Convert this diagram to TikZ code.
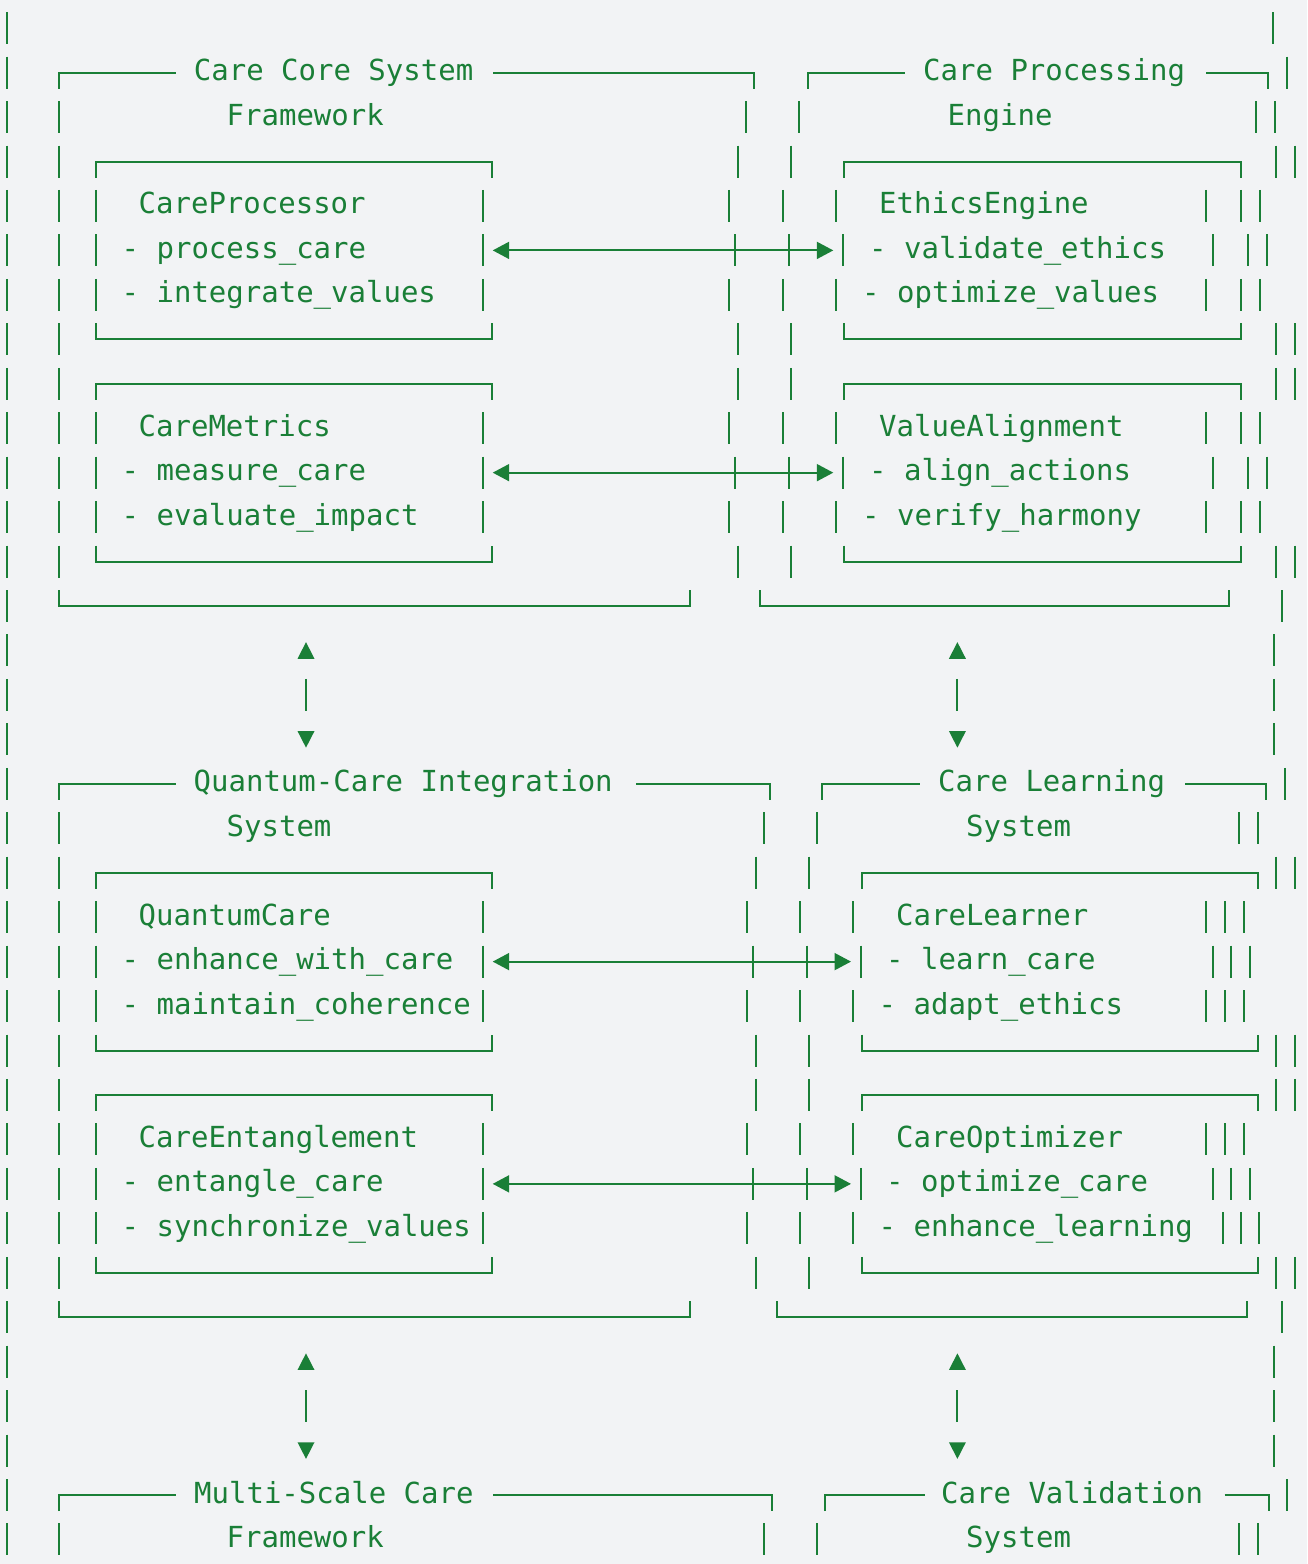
\documentclass[tikz,border=0pt]{standalone}
\usepackage{fontspec}
\setmonofont{DejaVu Sans Mono}
\usetikzlibrary{arrows.meta}

\definecolor{diagreen}{HTML}{1A7F37}
\definecolor{diabg}{HTML}{F2F3F5}

% y of text row #1
\newcommand{\rowy}[1]{(28.15+44.45*(#1))}
% short vertical strokes of one row
\newcommand{\vbars}[2]{\foreach \bx in {#2}{\draw[boxline] (\bx,{\rowy{#1}-16}) -- (\bx,{\rowy{#1}+16});}}
% top and bottom edges of a box
\newcommand{\topedge}[3]{\draw[boxline] (#2,{\rowy{#1}+16}) -- (#2,{\rowy{#1}}) -- (#3,{\rowy{#1}}) -- (#3,{\rowy{#1}+16});}
\newcommand{\botedge}[3]{\draw[boxline] (#2,{\rowy{#1}-16}) -- (#2,{\rowy{#1}}) -- (#3,{\rowy{#1}}) -- (#3,{\rowy{#1}-16});}
% top edge broken by a title
\newcommand{\titleedge}[5]{\draw[boxline] (#2,{\rowy{#1}+16}) -- (#2,{\rowy{#1}}) -- (#3,{\rowy{#1}});
  \draw[boxline] (#4,{\rowy{#1}}) -- (#5,{\rowy{#1}}) -- (#5,{\rowy{#1}+16});}
% solid triangles
\newcommand{\uptri}[2]{\fill[diagreen] (#1-8.5,{\rowy{#2}+8.3}) -- (#1+8.5,{\rowy{#2}+8.3}) -- (#1,{\rowy{#2}-8.3}) -- cycle;}
\newcommand{\downtri}[2]{\fill[diagreen] (#1-8.5,{\rowy{#2}-8.3}) -- (#1+8.5,{\rowy{#2}-8.3}) -- (#1,{\rowy{#2}+8.3}) -- cycle;}

\begin{document}
\begin{tikzpicture}[x=1pt,y=-1pt,
    boxline/.style={draw=diagreen,line width=2pt},
    txt/.style={font=\ttfamily\fontsize{29}{29}\selectfont,text=diagreen,inner sep=0pt,anchor=base west},
    link/.style={draw=diagreen,line width=2pt,{Triangle[length=16.5pt,width=17pt]}-{Triangle[length=16.5pt,width=17pt]}}]
  \fill[diabg] (0,0) rectangle (1307,1564);
  \useasboundingbox (0,0) rectangle (1307,1564);

  % first level
  \vbars{0}{7,1273.3}
  \vbars{1}{7,1286.7}
  \titleedge{1}{59.3}{176}{493.3}{754.3}
  \titleedge{1}{807.7}{905}{1206}{1268.3}
  \vbars{2}{7,59.3,746,799.3,1256,1275}
  \foreach \k in {0,5} {
    \vbars{3+\k}{7,59.3,738,791,1275.5,1294.5}
    \topedge{3+\k}{95.7}{491.7}
    \topedge{3+\k}{844.3}{1240.7}
    \vbars{4+\k}{7,59.3,95.7,482.7,729.3,782.7,835.7,1205.5,1240.7,1259.5}
    \vbars{5+\k}{7,59.3,95.7,482.7,734.7,788.7,842.7,1212.5,1247.7,1266.7}
    \vbars{6+\k}{7,59.3,95.7,482.7,729.3,782.7,835.7,1205.5,1240.7,1259.5}
    \vbars{7+\k}{7,59.3,738,791,1275.5,1294.5}
    \botedge{7+\k}{95.7}{491.7}
    \botedge{7+\k}{844.3}{1240.7}
  }
  \vbars{13}{7,1282}
  \botedge{13}{59.3}{689.7}
  \botedge{13}{760}{1229}

  \node[txt] (coreTitle) at (193.7,{\rowy{1}+8}) {Care Core System};
  \node[txt] (coreSub) at (226.5,{\rowy{2}+8}) {Framework};
  \node[txt] (engTitle) at (923,{\rowy{1}+8}) {Care Processing};
  \node[txt] (engSub) at (947.5,{\rowy{2}+8}) {Engine};
  \node[txt] (procName) at (138.5,{\rowy{4}+8}) {CareProcessor};
  \node[txt] (procA) at (121.5,{\rowy{5}+8}) {- process\_care};
  \node[txt] (procB) at (121.5,{\rowy{6}+8}) {- integrate\_values};
  \node[txt] (ethName) at (879,{\rowy{4}+8}) {EthicsEngine};
  \node[txt] (ethA) at (869,{\rowy{5}+8}) {- validate\_ethics};
  \node[txt] (ethB) at (862,{\rowy{6}+8}) {- optimize\_values};
  \node[txt] (metName) at (138.5,{\rowy{9}+8}) {CareMetrics};
  \node[txt] (metA) at (121.5,{\rowy{10}+8}) {- measure\_care};
  \node[txt] (metB) at (121.5,{\rowy{11}+8}) {- evaluate\_impact};
  \node[txt] (valName) at (879,{\rowy{9}+8}) {ValueAlignment};
  \node[txt] (valA) at (869,{\rowy{10}+8}) {- align\_actions};
  \node[txt] (valB) at (862,{\rowy{11}+8}) {- verify\_harmony};

  \coordinate (procOut) at (492.7,{\rowy{5}});
  \coordinate (ethIn) at (833.3,{\rowy{5}});
  \coordinate (metOut) at (492.7,{\rowy{10}});
  \coordinate (valIn) at (833.3,{\rowy{10}});
  \draw[link] (procOut) -- (ethIn);
  \draw[link] (metOut) -- (valIn);

  % links between levels
  \foreach \r in {14,30} {
    \vbars{\r}{7,1274}
    \vbars{\r+1}{7,306,957.4,1274}
    \vbars{\r+2}{7,1274}
    \uptri{306}{\r}
    \uptri{957.4}{\r}
    \downtri{306}{\r+2}
    \downtri{957.4}{\r+2}
  }

  % second level
  \vbars{17}{7,1284.6}
  \titleedge{17}{59.3}{176}{636}{769.7}
  \titleedge{17}{822.3}{920}{1185}{1266}
  \vbars{18}{7,59.3,763.9,816.9,1239,1257.5}
  \foreach \k in {0,5} {
    \vbars{19+\k}{7,59.3,755.7,808.7,1276,1294.5}
    \topedge{19+\k}{95.7}{491.7}
    \topedge{19+\k}{862}{1258.3}
    \vbars{20+\k}{7,59.3,95.7,482.7,746.7,800,853.3,1205.5,1224.5,1243.5}
    \vbars{21+\k}{7,59.3,95.7,482.7,752.5,806.6,860.7,1213,1231,1249.5}
    \vbars{22+\k}{7,59.3,95.7,482.7,746.7,800,853.3}
    \vbars{23+\k}{7,59.3,755.7,808.7,1276,1294.5}
    \botedge{23+\k}{95.7}{491.7}
    \botedge{23+\k}{862}{1258.3}
  }
  \vbars{22}{1205.5,1224.5,1243.5}
  \vbars{27}{1222.7,1241,1259.3}
  \vbars{29}{7,1282}
  \botedge{29}{59.3}{689.7}
  \botedge{29}{777.4}{1246.5}

  \node[txt] (qTitle) at (193.5,{\rowy{17}+8}) {Quantum-Care Integration};
  \node[txt] (qSub) at (226.5,{\rowy{18}+8}) {System};
  \node[txt] (learnTitle) at (938,{\rowy{17}+8}) {Care Learning};
  \node[txt] (learnSub) at (966,{\rowy{18}+8}) {System};
  \node[txt] (qcName) at (138.5,{\rowy{20}+8}) {QuantumCare};
  \node[txt] (qcA) at (121.5,{\rowy{21}+8}) {- enhance\_with\_care};
  \node[txt] (qcB) at (121.5,{\rowy{22}+8}) {- maintain\_coherence};
  \node[txt] (lrnName) at (896,{\rowy{20}+8}) {CareLearner};
  \node[txt] (lrnA) at (886,{\rowy{21}+8}) {- learn\_care};
  \node[txt] (lrnB) at (878.5,{\rowy{22}+8}) {- adapt\_ethics};
  \node[txt] (entName) at (138.5,{\rowy{25}+8}) {CareEntanglement};
  \node[txt] (entA) at (121.5,{\rowy{26}+8}) {- entangle\_care};
  \node[txt] (entB) at (121.5,{\rowy{27}+8}) {- synchronize\_values};
  \node[txt] (optName) at (896,{\rowy{25}+8}) {CareOptimizer};
  \node[txt] (optA) at (886,{\rowy{26}+8}) {- optimize\_care};
  \node[txt] (optB) at (878.5,{\rowy{27}+8}) {- enhance\_learning};

  \coordinate (qcOut) at (492.7,{\rowy{21}});
  \coordinate (lrnIn) at (851,{\rowy{21}});
  \coordinate (entOut) at (492.7,{\rowy{26}});
  \coordinate (optIn) at (851,{\rowy{26}});
  \draw[link] (qcOut) -- (lrnIn);
  \draw[link] (entOut) -- (optIn);

  % third level
  \vbars{33}{7,1287.3}
  \titleedge{33}{59.3}{176}{493.3}{772.4}
  \titleedge{33}{825}{924.5}{1224.6}{1269}
  \vbars{34}{7,59.3,763.9,817,1239,1257.5}
  \node[txt] (msTitle) at (194,{\rowy{33}+8}) {Multi-Scale Care};
  \node[txt] (msSub) at (226.5,{\rowy{34}+8}) {Framework};
  \node[txt] (cvTitle) at (941,{\rowy{33}+8}) {Care Validation};
  \node[txt] (cvSub) at (966,{\rowy{34}+8}) {System};
\end{tikzpicture}
\end{document}
